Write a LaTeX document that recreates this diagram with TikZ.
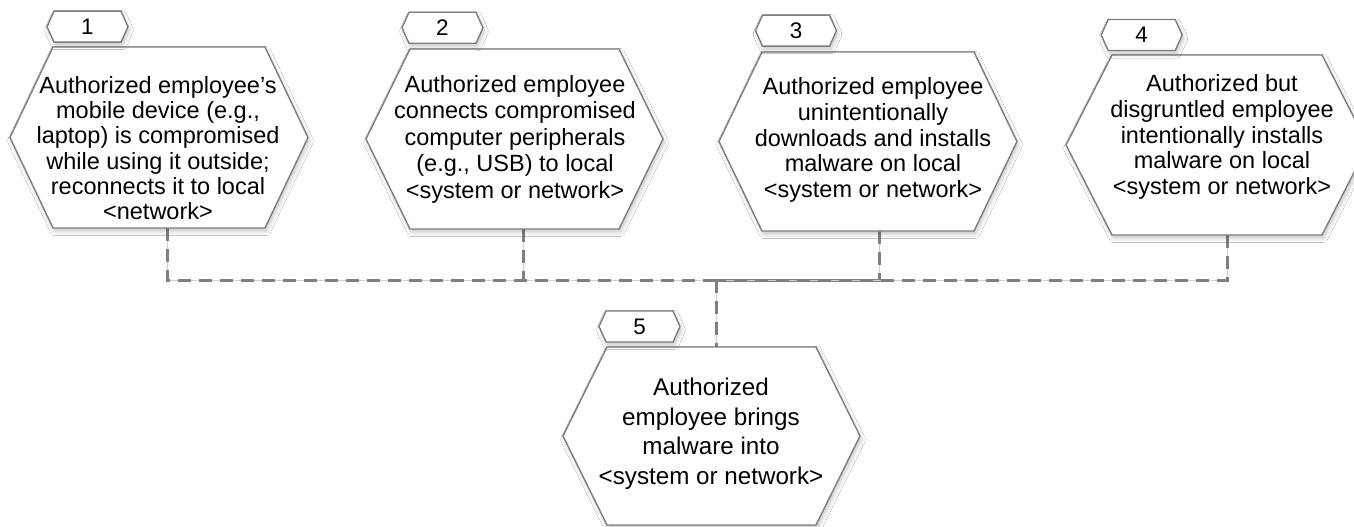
\documentclass[tikz,border=0pt]{standalone}
\usepackage{fontspec}
\setmainfont{Liberation Sans}
\usetikzlibrary{calc,shadows.blur}
\definecolor{edgegray}{RGB}{125,125,125}
\definecolor{linegray}{RGB}{128,128,128}
\definecolor{thinblue}{RGB}{185,212,232}
\newcommand\hexoutline[2]{%
  \path[shapestyle] (#1.west) -- ([xshift=#2]#1.north west) -- ([xshift=-#2]#1.north east) -- (#1.east) -- ([xshift=-#2]#1.south east) -- ([xshift=#2]#1.south west) -- cycle;}
\begin{document}
\begin{tikzpicture}[x=1pt,y=-1pt,
  geo/.style={rectangle,inner sep=0pt,outer sep=0pt},
  shapestyle/.style={draw=edgegray,line width=1.4pt,fill=white,line join=miter,
    blur shadow={shadow xshift=1.5pt,shadow yshift=-3.5pt,shadow opacity=22,shadow blur radius=4pt,shadow blur steps=6}},
  hxt/.style={align=center,inner sep=0pt,text=black},
  tagtext/.style={inner sep=0pt,font=\fontsize{22.5}{25}\selectfont,text=black},
  conn/.style={draw=linegray,line width=3pt,dash pattern=on 13pt off 8pt,
    preaction={draw=thinblue,line width=0.8pt,solid}}
]
\fill[white] (0,0) rectangle (1354,527);
\useasboundingbox (0,0) rectangle (1354,527);

% hexagon geometry
\node[geo,minimum width=298pt,minimum height=181pt] (h1) at (159,137.5) {};
\node[geo,minimum width=297pt,minimum height=180pt] (h2) at (514.5,139) {};
\node[geo,minimum width=298pt,minimum height=179pt] (h3) at (868,141.5) {};
\node[geo,minimum width=302pt,minimum height=180pt] (h4) at (1217,145) {};
\node[geo,minimum width=297pt,minimum height=178pt] (h5) at (711.5,436) {};
% tag geometry
\node[geo,minimum width=81pt,minimum height=31pt] (l1) at (87.5,26.7) {};
\node[geo,minimum width=81pt,minimum height=31pt] (l2) at (442.5,27.8) {};
\node[geo,minimum width=81pt,minimum height=31pt] (l3) at (796,30.7) {};
\node[geo,minimum width=81pt,minimum height=31pt] (l4) at (1141.7,35) {};
\node[geo,minimum width=81pt,minimum height=31pt] (l5) at (639.5,326.5) {};

\coordinate (bus) at (716,280);

% connectors
\draw[conn] ([xshift=8pt]h1.south) |- (bus);
\draw[conn] ([xshift=8.5pt]h2.south) |- (bus);
\draw[conn] ([xshift=11pt]h3.south) |- (bus);
\draw[conn] ([xshift=10pt]h4.south) |- (bus);
\draw[conn] (bus) -- (bus |- h5.north);

% shapes
\hexoutline{h1}{43pt}
\hexoutline{h2}{44pt}
\hexoutline{h3}{43pt}
\hexoutline{h4}{46pt}
\hexoutline{h5}{44pt}
\hexoutline{l1}{7pt}
\hexoutline{l2}{7pt}
\hexoutline{l3}{7pt}
\hexoutline{l4}{7pt}
\hexoutline{l5}{7pt}

% texts
\node[hxt,font=\fontsize{23.5}{25.2}\selectfont] (t1) at (158,148) {Authorized employee’s\\mobile device (e.g.,\\laptop) is compromised\\while using it outside;\\reconnects it to local\\<network>};
\node[hxt,font=\fontsize{23.5}{26.5}\selectfont] (t2) at (515,139) {Authorized employee\\connects compromised\\computer peripherals\\(e.g., USB) to local\\<system or network>};
\node[hxt,font=\fontsize{23.5}{25.8}\selectfont] (t3) at (873,140) {Authorized employee\\unintentionally\\downloads and installs\\malware on local\\<system or network>};
\node[hxt,font=\fontsize{23.5}{25.8}\selectfont] (t4) at (1222,137) {Authorized but\\disgruntled employee\\intentionally installs\\malware on local\\<system or network>};
\node[hxt,font=\fontsize{24.2}{29.5}\selectfont] (t5) at (711,433.5) {Authorized\\employee brings\\malware into\\<system or network>};

\node[tagtext] (n1) at (l1) {1};
\node[tagtext] (n2) at (l2) {2};
\node[tagtext] (n3) at (l3) {3};
\node[tagtext] (n4) at (l4) {4};
\node[tagtext] (n5) at (l5) {5};
\end{tikzpicture}
\end{document}
